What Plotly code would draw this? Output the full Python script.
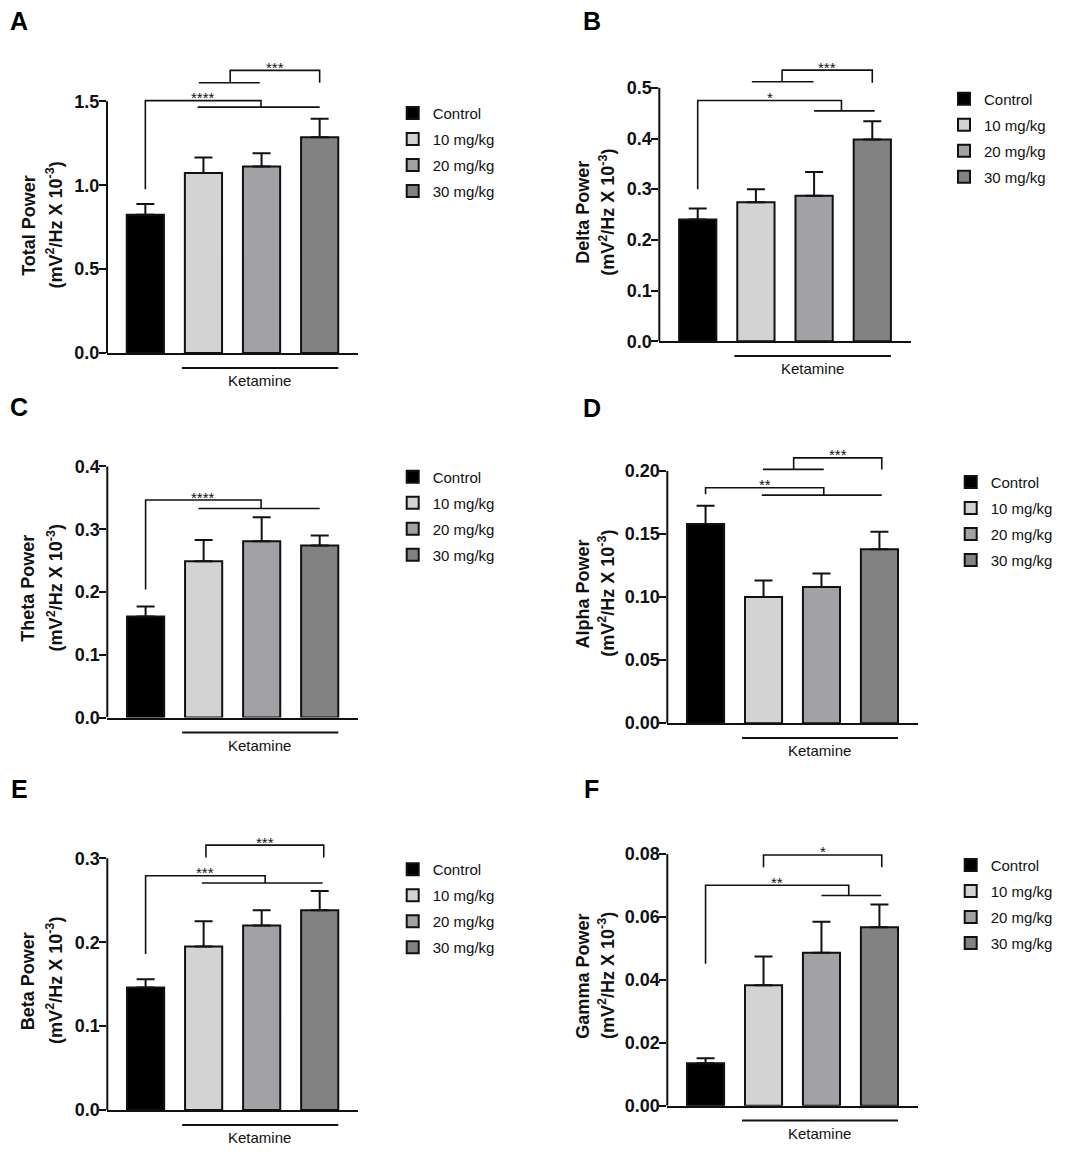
import plotly.graph_objects as go

W, H = 1065, 1155
PAGE = 8  # default page margin around the figure div
FW, FH = W - PAGE, H - PAGE
FONT = "Liberation Sans, Arial, sans-serif"
INK = "#111111"

# --------------------------------------------------
# DATA (mean and SEM, mV^2/Hz x 10^-3)
# --------------------------------------------------

groups = ["Control", "10 mg/kg", "20 mg/kg", "30 mg/kg"]
bar_colors = ["#000000", "#d3d3d3", "#a2a2a6", "#828282"]
x_pos = [0, 1, 2, 3]

total_mean = [0.824, 1.072, 1.112, 1.286]
total_sem = [0.064, 0.093, 0.078, 0.110]

delta_mean = [0.240, 0.274, 0.287, 0.398]
delta_sem = [0.022, 0.026, 0.047, 0.036]

theta_mean = [0.161, 0.249, 0.281, 0.274]
theta_sem = [0.016, 0.034, 0.038, 0.016]

alpha_mean = [0.158, 0.100, 0.108, 0.138]
alpha_sem = [0.0144, 0.0131, 0.0108, 0.0139]

beta_mean = [0.146, 0.195, 0.220, 0.238]
beta_sem = [0.010, 0.030, 0.018, 0.023]

gamma_mean = [0.0135, 0.0383, 0.0486, 0.0567]
gamma_sem = [0.0016, 0.0091, 0.0099, 0.0073]

# significance brackets:
# (left x, left leg bottom, right x, right leg bottom, top, stars, group line span or None, leg carrying it)
total_sig = [
    (0, 0.976, 1.99, 1.465, 1.504, "****", (0.90, 3.00), "right"),
    (1.46, 1.610, 3.00, 1.610, 1.684, "***", (0.92, 1.97), "left"),
]
delta_sig = [
    (0, 0.300, 2.47, 0.4545, 0.475, "*", (2.00, 3.04), "right"),
    (1.45, 0.512, 3.00, 0.510, 0.535, "***", (0.93, 1.99), "left"),
]
theta_sig = [
    (0, 0.204, 1.99, 0.333, 0.3465, "****", (0.91, 3.00), "right"),
]
alpha_sig = [
    (0, 0.1816, 2.04, 0.1809, 0.1867, "**", (0.97, 3.04), "right"),
    (1.52, 0.2013, 3.04, 0.2013, 0.2104, "***", (0.99, 2.04), "left"),
]
beta_sig = [
    (0, 0.186, 2.06, 0.2706, 0.2792, "***", (0.97, 3.05), "right"),
    (1.04, 0.3008, 3.07, 0.3008, 0.3157, "***", None, None),
]
gamma_sig = [
    (0, 0.0451, 2.47, 0.0668, 0.0701, "**", (2.00, 3.03), "right"),
    (1.00, 0.0758, 3.04, 0.0758, 0.0797, "*", None, None),
]

# --------------------------------------------------
# PANEL LAYOUT (pixel geometry of each panel on the page)
# --------------------------------------------------

panels = [
    dict(letter="A", name="Total Power", mean=total_mean, sem=total_sem, sig=total_sig,
         ticks=[0, 0.5, 1.0, 1.5], fmt=".1f", ymax=1.75,
         left=107, right=358, y0=354, ytop=99.3,
         title_x=(28.3, 55), title_y=225, letter_xy=(19, 18),
         leg_x=432.7, leg_y=112.7),
    dict(letter="B", name="Delta Power", mean=delta_mean, sem=delta_sem, sig=delta_sig,
         ticks=[0, 0.1, 0.2, 0.3, 0.4, 0.5], fmt=".1f", ymax=0.56,
         left=659.3, right=910.7, y0=342, ytop=85.7,
         title_x=(583.3, 607.3), title_y=211.7, letter_xy=(592, 18),
         leg_x=984, leg_y=98.3),
    dict(letter="C", name="Theta Power", mean=theta_mean, sem=theta_sem, sig=theta_sig,
         ticks=[0, 0.1, 0.2, 0.3, 0.4], fmt=".1f", ymax=0.41,
         left=107.3, right=358, y0=722.7, ytop=468.7,
         title_x=(28.3, 55), title_y=592, letter_xy=(19, 408.5),
         leg_x=432.7, leg_y=480.7),
    dict(letter="D", name="Alpha Power", mean=alpha_mean, sem=alpha_sem, sig=alpha_sig,
         ticks=[0, 0.05, 0.10, 0.15, 0.20], fmt=".2f", ymax=0.22,
         left=667.3, right=917.7, y0=728.3, ytop=473.3,
         title_x=(582.7, 607), title_y=597.5, letter_xy=(592, 410),
         leg_x=990.7, leg_y=486),
    dict(letter="E", name="Beta Power", mean=beta_mean, sem=beta_sem, sig=beta_sig,
         ticks=[0, 0.1, 0.2, 0.3], fmt=".1f", ymax=0.33,
         left=107.3, right=358, y0=1119.7, ytop=865,
         title_x=(28.3, 55), title_y=989, letter_xy=(19, 795),
         leg_x=432.7, leg_y=877.7),
    dict(letter="F", name="Gamma Power", mean=gamma_mean, sem=gamma_sem, sig=gamma_sig,
         ticks=[0, 0.02, 0.04, 0.06, 0.08], fmt=".2f", ymax=0.085,
         left=667.3, right=917.7, y0=1115.3, ytop=860.7,
         title_x=(582.7, 607), title_y=984, letter_xy=(591, 794.7),
         leg_x=990.7, leg_y=873.3),
]

X_RANGE = [-0.66, 3.66]
ROW_GAP = 25.5


def px(x):
    return (x - PAGE) / FW


def py(y):
    return 1 - (y - PAGE) / FH


# --------------------------------------------------
# BUILD FIGURE
# --------------------------------------------------

fig = go.Figure()
layout = {}
shapes = []
annotations = []

for i, p in enumerate(panels):
    n = "" if i == 0 else str(i + 1)
    xa, ya, leg = "x" + n, "y" + n, "legend" + n

    for j in range(4):
        fig.add_trace(go.Bar(
            x=[x_pos[j]],
            y=[p["mean"][j]],
            width=0.64,
            name=groups[j],
            marker=dict(color=bar_colors[j], line=dict(color=INK, width=2)),
            error_y=dict(type="data", symmetric=False, array=[p["sem"][j]], arrayminus=[0],
                         color=INK, thickness=2, width=9),
            xaxis=xa, yaxis=ya,
            legend=leg, legendgroup=f"{p['letter']}{j}",
            hoverinfo="skip",
        ))

    ppu = (p["y0"] - p["ytop"]) / p["ticks"][-1]
    top_px = p["y0"] - p["ymax"] * ppu

    layout["xaxis" + n] = dict(
        domain=[px(p["left"]), px(p["right"])], range=X_RANGE, anchor=ya,
        showline=True, linewidth=2, linecolor=INK,
        showticklabels=False, ticks="", showgrid=False, zeroline=False,
    )
    layout["yaxis" + n] = dict(
        domain=[py(p["y0"]), py(top_px)], range=[0, p["ymax"]], anchor=xa,
        tickvals=p["ticks"], tickformat=p["fmt"],
        ticks="outside", ticklen=7, tickwidth=2, tickcolor=INK,
        ticklabelstandoff=-4,
        tickfont=dict(family=FONT, size=18, color=INK, weight="bold"),
        showline=False, showgrid=False, zeroline=False,
    )
    layout[leg] = dict(
        x=px(p["leg_x"] - 40), y=py(p["leg_y"] - 18),
        xanchor="left", yanchor="top",
        font=dict(family=FONT, size=15, color=INK),
        traceorder="grouped", tracegroupgap=ROW_GAP - 22,
        bgcolor="rgba(0,0,0,0)",
    )

    # y axis line only up to the last tick
    shapes.append(dict(type="line", xref=xa + " domain", yref=ya, x0=0, x1=0,
                       y0=0, y1=p["ticks"][-1], line=dict(color=INK, width=2)))

    # significance brackets
    for (bx0, by0, bx1, by1, btop, stars, grp, side) in p["sig"]:
        shapes.append(dict(type="path", xref=xa, yref=ya,
                           path=f"M{bx0},{by0} L{bx0},{btop} L{bx1},{btop} L{bx1},{by1}",
                           line=dict(color=INK, width=1.6)))
        if grp is not None:
            gy = by1 if side == "right" else by0
            shapes.append(dict(type="line", xref=xa, yref=ya, x0=grp[0], x1=grp[1],
                               y0=gy, y1=gy, line=dict(color=INK, width=1.6)))
        annotations.append(dict(xref=xa, yref=ya, x=(bx0 + bx1) / 2, y=btop,
                                text=stars, showarrow=False, yanchor="middle", yshift=3,
                                font=dict(family=FONT, size=15, color=INK)))

    # Ketamine group line and label
    shapes.append(dict(type="line", xref=xa, yref="paper", x0=0.63, x1=3.32,
                       y0=py(p["y0"] + 15), y1=py(p["y0"] + 15),
                       line=dict(color=INK, width=2)))
    annotations.append(dict(xref=xa, yref="paper", x=1.97, y=py(p["y0"] + 28),
                            text="Ketamine", showarrow=False, yanchor="middle",
                            font=dict(family=FONT, size=15, color=INK)))

    # two-line y axis title
    annotations.append(dict(xref="paper", yref="paper", x=px(p["title_x"][0]), y=py(p["title_y"]),
                            text=f"<b>{p['name']}</b>", showarrow=False, textangle=-90,
                            xanchor="center", yanchor="middle",
                            font=dict(family=FONT, size=18, color=INK)))
    annotations.append(dict(xref="paper", yref="paper", x=px(p["title_x"][1]), y=py(p["title_y"]),
                            text="<b>(mV<sup>2</sup>/Hz X 10<sup>-3</sup>)</b>", showarrow=False,
                            textangle=-90, xanchor="center", yanchor="middle",
                            font=dict(family=FONT, size=18, color=INK)))

    # panel letter
    annotations.append(dict(xref="paper", yref="paper",
                            x=px(p["letter_xy"][0]), y=py(p["letter_xy"][1]),
                            text=f"<b>{p['letter']}</b>", showarrow=False,
                            xanchor="center", yanchor="middle",
                            font=dict(family=FONT, size=25, color="#000000")))

fig.update_layout(
    width=FW, height=FH,
    margin=dict(l=0, r=0, t=0, b=0),
    paper_bgcolor="white", plot_bgcolor="white",
    barmode="overlay",
    font=dict(family=FONT, color=INK),
    shapes=shapes,
    annotations=annotations,
    **layout,
)

fig.write_html("out.html")
